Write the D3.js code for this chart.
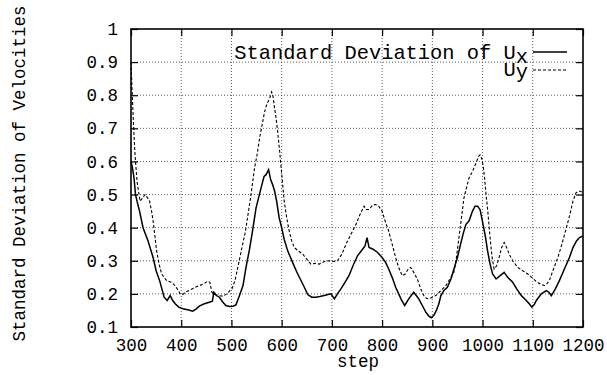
<!DOCTYPE html>
<html><head><meta charset="utf-8">
<script src="https://cdn.jsdelivr.net/npm/d3@7/dist/d3.min.js"></script>
<style>body{margin:0;background:#fff}svg{display:block}</style>
</head><body>
<script>
const xTicks = [300,400,500,600,700,800,900,1000,1100,1200];
const yTicks = [0.1,0.2,0.3,0.4,0.5,0.6,0.7,0.8,0.9,1];
const yTickLabels = ["0.1","0.2","0.3","0.4","0.5","0.6","0.7","0.8","0.9","1"];
const seriesNames = ["Standard Deviation of U", "U"];
const seriesSubs = ["x","y"];

const uxSteps = [300,303,306,309,312,317,324,334,344,350,357,366,372,378,383,388,395,403,413,423,430,436,446,456,462,465,470,476,483,489,496,503,509,516,523,529,536,542,549,559,565,569,574,578,582,586,590,595,600,605,612,619,626,632,642,652,660,668,676,685,692,698,705,711,718,726,734,742,751,761,766,770,774,782,791,800,807,813,820,827,833,839,845,853,863,868,873,880,887,893,898,903,908,913,917,923,930,937,943,950,957,962,967,973,980,985,990,995,1001,1006,1010,1015,1020,1027,1035,1043,1050,1060,1068,1077,1087,1093,1098,1103,1107,1112,1117,1127,1132,1137,1145,1153,1163,1173,1180,1187,1193,1200];
const uxValues = [0.60,0.58,0.55,0.50,0.48,0.45,0.40,0.36,0.31,0.27,0.24,0.19,0.18,0.195,0.18,0.17,0.16,0.155,0.152,0.148,0.155,0.163,0.17,0.175,0.178,0.205,0.195,0.19,0.175,0.165,0.162,0.163,0.167,0.195,0.225,0.28,0.335,0.39,0.46,0.52,0.555,0.56,0.575,0.545,0.53,0.51,0.48,0.43,0.40,0.365,0.33,0.305,0.28,0.26,0.23,0.198,0.19,0.19,0.192,0.195,0.198,0.2,0.185,0.2,0.215,0.235,0.255,0.285,0.315,0.335,0.345,0.37,0.34,0.335,0.325,0.31,0.295,0.275,0.25,0.22,0.2,0.18,0.165,0.185,0.205,0.195,0.185,0.165,0.145,0.133,0.128,0.135,0.15,0.17,0.195,0.21,0.22,0.245,0.275,0.31,0.355,0.385,0.41,0.42,0.45,0.465,0.465,0.455,0.41,0.37,0.33,0.29,0.26,0.245,0.255,0.265,0.25,0.235,0.215,0.195,0.18,0.17,0.16,0.168,0.18,0.19,0.2,0.21,0.205,0.195,0.215,0.24,0.275,0.31,0.34,0.36,0.37,0.375];

const uySteps = [300,302,305,308,312,318,323,328,333,337,341,344,348,351,356,361,366,371,380,388,394,398,403,408,418,428,436,445,452,457,461,467,474,483,491,497,501,507,514,521,528,533,538,546,551,556,561,566,571,576,580,583,585,589,592,596,599,602,605,610,615,620,625,633,642,650,658,667,675,685,695,703,711,720,728,738,748,756,764,768,774,781,787,793,800,806,813,820,827,833,840,846,852,857,863,870,877,883,888,893,900,907,917,927,935,943,948,953,958,963,968,973,980,987,992,995,998,1001,1004,1007,1011,1015,1019,1023,1028,1033,1038,1043,1048,1053,1060,1070,1080,1090,1098,1107,1115,1123,1128,1133,1140,1150,1158,1167,1174,1180,1186,1190,1195,1200];
const uyValues = [0.90,0.82,0.71,0.62,0.54,0.48,0.49,0.50,0.49,0.48,0.45,0.42,0.37,0.33,0.29,0.26,0.25,0.24,0.235,0.225,0.21,0.2,0.198,0.205,0.212,0.22,0.225,0.23,0.238,0.235,0.205,0.198,0.195,0.193,0.2,0.21,0.215,0.24,0.29,0.34,0.39,0.44,0.49,0.58,0.62,0.67,0.71,0.75,0.775,0.79,0.81,0.795,0.77,0.73,0.69,0.63,0.58,0.53,0.48,0.43,0.39,0.36,0.34,0.33,0.32,0.305,0.29,0.292,0.29,0.298,0.3,0.298,0.3,0.32,0.35,0.38,0.41,0.44,0.465,0.455,0.455,0.468,0.47,0.465,0.45,0.42,0.39,0.35,0.31,0.28,0.255,0.26,0.275,0.28,0.265,0.245,0.215,0.195,0.187,0.185,0.19,0.195,0.21,0.225,0.245,0.265,0.31,0.37,0.43,0.49,0.52,0.55,0.57,0.595,0.615,0.62,0.61,0.59,0.55,0.5,0.44,0.37,0.31,0.275,0.285,0.31,0.34,0.355,0.34,0.32,0.3,0.28,0.27,0.26,0.25,0.237,0.23,0.225,0.23,0.24,0.27,0.31,0.35,0.40,0.44,0.48,0.505,0.51,0.51,0.505];

const W = 607, H = 375;
const m = {left:131, right:24, top:29, bottom:48};
const iw = W - m.left - m.right, ih = H - m.top - m.bottom;
const font = "'Liberation Mono', 'DejaVu Sans Mono', monospace";

const svg = d3.select("body").append("svg").attr("width", W).attr("height", H);
const g = svg.append("g").attr("transform", `translate(${m.left},${m.top})`);

const x = d3.scaleLinear().domain([300,1200]).range([0, iw]);
const y = d3.scaleLinear().domain([0.1,1]).range([ih, 0]);

// grid
g.append("g").selectAll("line").data(xTicks.slice(1,-1)).join("line")
  .attr("x1", d=>x(d)).attr("x2", d=>x(d)).attr("y1",0).attr("y2",ih)
  .attr("stroke","#333").attr("stroke-width",0.8).attr("stroke-dasharray","1,2");
g.append("g").selectAll("line").data(yTicks.slice(1,-1)).join("line")
  .attr("y1", d=>y(d)).attr("y2", d=>y(d)).attr("x1",0).attr("x2",iw)
  .attr("stroke","#333").attr("stroke-width",0.8).attr("stroke-dasharray","1,2");

// axes with inward ticks
const tl = 7;
const ax = d3.axisBottom(x).tickValues(xTicks).tickSize(-tl).tickPadding(12).tickFormat(d3.format("d"));
const axT = d3.axisTop(x).tickValues(xTicks).tickSize(-tl).tickFormat("");
const ay = d3.axisLeft(y).tickValues(yTicks).tickSize(-tl).tickPadding(13).tickFormat((d,i)=>yTickLabels[i]);
const ayR = d3.axisRight(y).tickValues(yTicks).tickSize(-tl).tickFormat("");

function style(sel){
  sel.select(".domain").remove();
  sel.selectAll(".tick line").attr("stroke","#000").attr("stroke-width",1.2);
  sel.selectAll("text").attr("font-family", font).attr("font-size","17.5px").attr("fill","#000");
}
g.append("g").attr("transform",`translate(0,${ih})`).call(ax).call(style);
g.append("g").call(axT).call(style);
g.append("g").call(ay).call(style);
g.append("g").attr("transform",`translate(${iw},0)`).call(ayR).call(style);

// border
g.append("rect").attr("x",0).attr("y",0).attr("width",iw).attr("height",ih)
  .attr("fill","none").attr("stroke","#000").attr("stroke-width",1.6);

// lines
const line = d3.line().x(d=>x(d[0])).y(d=>y(d[1]));
const ux = uxSteps.map((s,i)=>[s,uxValues[i]]);
const uy = uySteps.map((s,i)=>[s,uyValues[i]]);
g.append("path").datum(uy).attr("d",line).attr("fill","none").attr("stroke","#000")
  .attr("stroke-width",1.1).attr("stroke-dasharray","3,2");
g.append("path").datum(ux).attr("d",line).attr("fill","none").attr("stroke","#000")
  .attr("stroke-width",1.5);

// legend
const lx = 528 - m.left;
const t1 = g.append("text").attr("x", lx).attr("y", 58.5 - m.top).attr("text-anchor","end")
  .attr("font-family", font).attr("font-size","20.4px").attr("fill","#000");
t1.append("tspan").text(seriesNames[0]);
t1.append("tspan").attr("dy",4.5).text(seriesSubs[0]);
g.append("line").attr("x1",533-m.left).attr("x2",567-m.left).attr("y1",52-m.top).attr("y2",52-m.top)
  .attr("stroke","#000").attr("stroke-width",1.3);
const t2 = g.append("text").attr("x", lx).attr("y", 75.5 - m.top).attr("text-anchor","end")
  .attr("font-family", font).attr("font-size","20.4px").attr("fill","#000");
t2.append("tspan").text(seriesNames[1]);
t2.append("tspan").attr("dy",2).text(seriesSubs[1]);
g.append("line").attr("x1",533-m.left).attr("x2",567-m.left).attr("y1",70-m.top).attr("y2",70-m.top)
  .attr("stroke","#000").attr("stroke-width",1.1).attr("stroke-dasharray","3,2");

// axis titles
svg.append("text").attr("x", 358).attr("y", 367).attr("text-anchor","middle")
  .attr("font-family", font).attr("font-size","17.5px").text("step");
svg.append("text").attr("transform","translate(25,173.5) rotate(-90)").attr("text-anchor","middle")
  .attr("font-family", font).attr("font-size","17.5px").text("Standard Deviation of Velocities");
</script>
</body></html>
